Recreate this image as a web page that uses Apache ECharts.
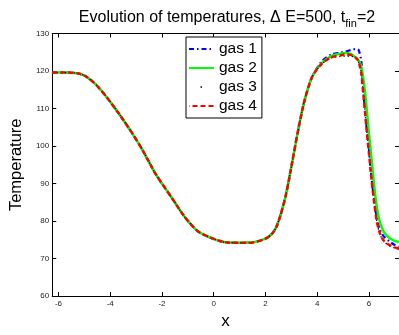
<!DOCTYPE html>
<html>
<head>
<meta charset="utf-8">
<script src="https://cdn.jsdelivr.net/npm/echarts@6/dist/echarts.min.js"></script>
<style>html,body{margin:0;padding:0;background:#fff}#c{width:399px;height:335px}</style>
</head>
<body>
<div id="c"></div>
<script>
var xs = [-6.24,-5.8,-5.4,-5.2,-5.0,-4.75,-4.5,-4.12,-3.62,-3.12,-2.74,-2.24,-1.61,-1.11,-0.6,-0.1,0.4,1.0,1.5,2.0,2.25,2.42,2.6,2.79,3.05,3.23,3.49,3.8,4.18,4.55,4.9,5.1,5.3,5.5,5.6,5.7,5.8,5.9,6.0,6.1,6.2,6.3,6.4,6.5,6.6,6.8,7.0,7.16];
var common = [119.6,119.6,119.5,119.3,118.8,117.6,116.0,112.9,108.2,103.1,98.8,92.5,86.1,81.0,77.2,75.5,74.4,74.2,74.3,75.3,76.6,78.4,82.0,87.0,96.3,103.1,111.6,118.4];
var gas1Tail = [122.6,124.4,124.9,125.2,125.6,125.9,125.6,122.8,113.0,105.8,99.0,91.5,85.5,81.0,78.0,76.6,75.7,74.5,73.6,73.2];
var gas2Tail = [122.2,124.0,124.6,124.8,124.5,123.5,122.8,121.2,117.0,110.8,103.1,96.6,89.5,83.8,80.3,78.2,76.8,75.4,74.7,74.4];
var gas3Tail = [121.9,123.5,123.9,124.0,124.0,123.3,122.3,119.5,112.5,105.0,98.0,91.0,85.0,80.0,77.0,75.3,74.4,73.4,72.8,72.5];
var gas4Tail = [122.0,123.7,124.2,124.4,124.3,123.5,122.5,119.5,112.5,105.0,98.0,91.0,85.0,80.0,77.2,75.5,74.6,73.6,73.0,72.7];
var seriesNames = ['gas 1','gas 2','gas 3','gas 4'];
var xTicks = [-6,-4,-2,0,2,4,6];
var yTicks = [60,70,80,90,100,110,120,130];

function pairs(tail){
  var v = common.concat(tail);
  return xs.map(function(x,i){return [x, v[i]];});
}
var chart = echarts.init(document.getElementById('c'), null, {renderer:'canvas'});
var axLine = {show:true, onZero:false, lineStyle:{color:'#000', width:1}};
var font = 'Liberation Sans, Arial, Helvetica, sans-serif';
function lineSeries(name, tail, color, width, type, z){
  return {name:name, type:'line', data:pairs(tail), symbol:'none', smooth:0.25,
    lineStyle:{color:color, width:width, type:type}, itemStyle:{color:color}, z:z, animation:false};
}
chart.setOption({
  animation:false,
  backgroundColor:'#fff',
  title:{
    text:'{a|Evolution of temperatures, \u0394 E=500, t}{s|fin}{a|=2}',
    left:222, top:2, textAlign:'center',
    textStyle:{fontWeight:'normal', rich:{
      a:{fontFamily:font, fontSize:16, fontWeight:'normal', color:'#000', lineHeight:20},
      s:{fontFamily:font, fontSize:11, fontWeight:'normal', color:'#000', padding:[11,0,0,0]}
    }}
  },
  grid:{left:44, top:33.5, right:0, bottom:26, containLabel:false},
  legend:{
    orient:'vertical', left:186, top:37, width:74,
    backgroundColor:'#fff', borderColor:'#000', borderWidth:1,
    padding:[4,5,4,2], itemGap:3, itemWidth:25, itemHeight:14,
    itemStyle:{opacity:0},
    textStyle:{fontFamily:font, fontSize:15.5, color:'#000'},
    data:[
      {name:'gas 1'},
      {name:'gas 2'},
      {name:'gas 3', lineStyle:{type:[1.5,40], dashOffset:-11.5, width:1.5}},
      {name:'gas 4'}
    ]
  },
  xAxis:[{
    type:'value', min:-6.24, max:7.16, position:'bottom',
    name:'x', nameLocation:'middle', nameGap:15,
    nameTextStyle:{fontFamily:font, fontSize:17, color:'#000'},
    axisLine:axLine, splitLine:{show:false},
    axisTick:{show:true, inside:true, length:4, customValues:xTicks, lineStyle:{color:'#000'}},
    axisLabel:{fontFamily:font, fontSize:8, color:'#222', margin:4, customValues:xTicks}
  },{
    type:'value', min:-6.24, max:7.16, position:'top',
    axisLine:axLine, splitLine:{show:false},
    axisTick:{show:true, inside:true, length:4, customValues:xTicks, lineStyle:{color:'#000'}},
    axisLabel:{show:false}
  }],
  yAxis:[{
    type:'value', min:60, max:130, interval:10, position:'left',
    name:'Temperature', nameLocation:'middle', nameGap:21,
    nameTextStyle:{fontFamily:font, fontSize:16.5, color:'#000'},
    axisLine:axLine, splitLine:{show:false},
    axisTick:{show:true, inside:true, length:4, lineStyle:{color:'#000'}},
    axisLabel:{fontFamily:font, fontSize:8, color:'#222', margin:3, customValues:yTicks}
  },{
    type:'value', min:60, max:130, interval:10, position:'right',
    axisLine:axLine, splitLine:{show:false},
    axisTick:{show:true, inside:true, length:4, lineStyle:{color:'#000'}},
    axisLabel:{show:false}
  }],
  series:[
    lineSeries('gas 1', gas1Tail, '#0000ff', 2.2, [5,3,1.5,3], 2),
    lineSeries('gas 2', gas2Tail, '#00ff00', 2.5, 'solid', 3),
    lineSeries('gas 3', gas3Tail, '#000000', 1.3, [1.3,3], 4),
    lineSeries('gas 4', gas4Tail, '#ff0000', 2.5, [5,3], 5)
  ]
});
</script>
</body>
</html>
